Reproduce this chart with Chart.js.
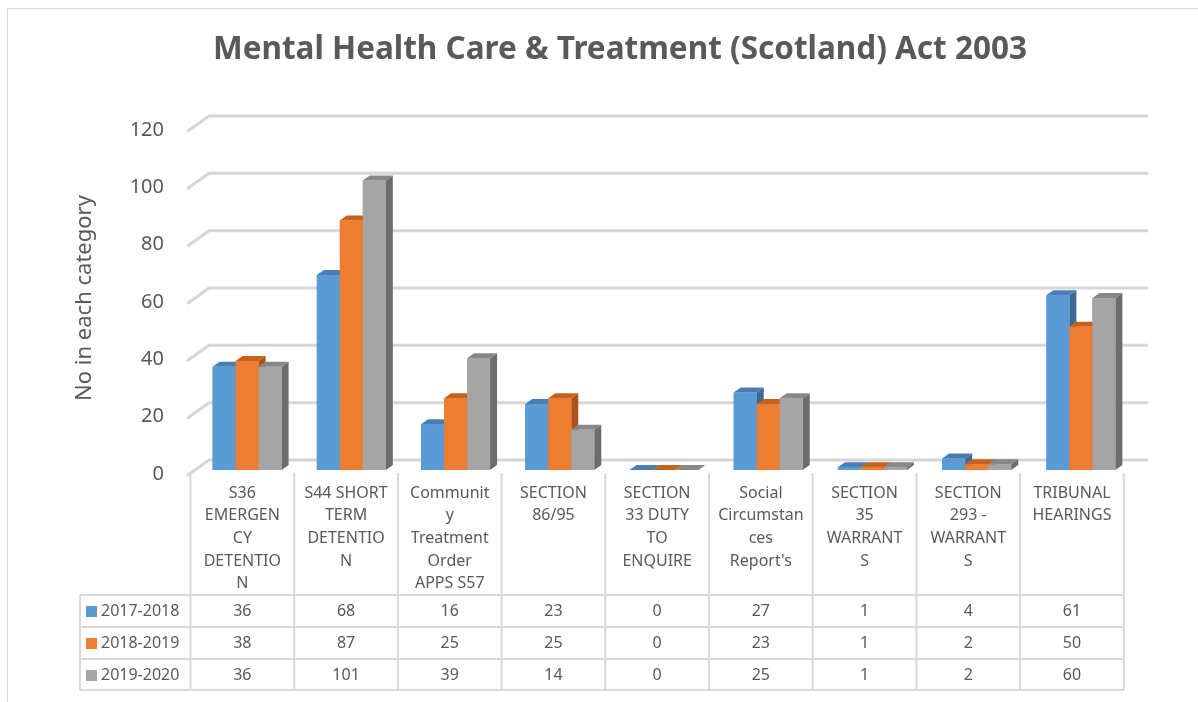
<!DOCTYPE html>
<html lang="en">
<head>
  <meta charset="UTF-8" />
  <title>Mental Health Care &amp; Treatment (Scotland) Act 2003</title>
  <script src="https://cdn.jsdelivr.net/npm/chart.js"></script>
  <style>
    html, body {
      margin: 0;
      padding: 0;
      background: #fff;
    }
    #mhChart {
      display: block;
    }
  </style>
</head>
<body>
  <canvas id="mhChart" width="1198" height="702"></canvas>

  <script>
    // category names as they wrap in the table header
    const categories = [
      ['S36', 'EMERGEN', 'CY', 'DETENTIO', 'N'],
      ['S44 SHORT', 'TERM', 'DETENTIO', 'N'],
      ['Communit', 'y', 'Treatment', 'Order', 'APPS S57'],
      ['SECTION', '86/95'],
      ['SECTION', '33 DUTY', 'TO', 'ENQUIRE'],
      ['Social', 'Circumstan', 'ces', "Report's"],
      ['SECTION', '35', 'WARRANT', 'S'],
      ['SECTION', '293 -', 'WARRANT', 'S'],
      ['TRIBUNAL', 'HEARINGS']
    ];
    const seriesNames = ['2017-2018', '2018-2019', '2019-2020'];
    const values2017 = [36, 68, 16, 23, 0, 27, 1, 4, 61];
    const values2018 = [38, 87, 25, 25, 0, 23, 1, 2, 50];
    const values2019 = [36, 101, 39, 14, 0, 25, 1, 2, 60];
    const yTicks = [0, 20, 40, 60, 80, 100, 120];

    const frontColors = ['#5b9bd5', '#ed7d31', '#a5a5a5'];
    const topColors = ['#4a7db0', '#c4621e', '#878787'];
    const sideColors = ['#3d6a95', '#a9531a', '#6c6c6c'];
    const textColor = '#595959';
    const lineColor = '#d9d9d9';
    const FONT = '"Noto Sans", "Open Sans", sans-serif';

    // depth of the bars and of the back wall
    const barDX = 7, barDY = -5;

    const allValues = [values2017, values2018, values2019];

    // back wall grid lines with the little slanted step on the left
    const wallGrid = {
      id: 'wallGrid',
      beforeDatasetsDraw(chart) {
        const { ctx, chartArea } = chart;
        const y = chart.scales.y;
        ctx.save();
        ctx.strokeStyle = '#d6d6d6';
        ctx.lineWidth = 3;
        ctx.lineCap = 'round';
        ctx.lineJoin = 'round';
        yTicks.forEach(v => {
          const yf = y.getPixelForValue(v);
          ctx.beginPath();
          ctx.moveTo(chartArea.left - 7, yf + 5);
          ctx.lineTo(chartArea.left + 14, yf - 10);
          ctx.lineTo(chartArea.right + 14, yf - 10);
          ctx.stroke();
        });
        ctx.restore();
      }
    };

    // redraw each bar as a box: front, side and top faces
    const bars3d = {
      id: 'bars3d',
      afterDatasetsDraw(chart) {
        const ctx = chart.ctx;
        ctx.save();
        for (let i = 0; i < categories.length; i++) {
          for (let d = 0; d < allValues.length; d++) {
            const el = chart.getDatasetMeta(d).data[i];
            const x0 = el.x - el.width / 2;
            const x1 = el.x + el.width / 2;
            const top = el.y;
            const base = el.base;

            ctx.fillStyle = sideColors[d];
            ctx.beginPath();
            ctx.moveTo(x1, base);
            ctx.lineTo(x1, top);
            ctx.lineTo(x1 + barDX, top + barDY);
            ctx.lineTo(x1 + barDX, base + barDY);
            ctx.closePath();
            ctx.fill();

            ctx.fillStyle = topColors[d];
            ctx.beginPath();
            ctx.moveTo(x0, top);
            ctx.lineTo(x1, top);
            ctx.lineTo(x1 + barDX, top + barDY);
            ctx.lineTo(x0 + barDX, top + barDY);
            ctx.closePath();
            ctx.fill();

            ctx.fillStyle = frontColors[d];
            ctx.fillRect(x0, top, x1 - x0, base - top);
          }
        }
        ctx.restore();
      }
    };

    // title, data table with legend keys, and the outer frame
    const tableAndTitle = {
      id: 'tableAndTitle',
      afterDraw(chart) {
        const ctx = chart.ctx;
        const colLeft = 190.5, colW = 103.7;
        const headTop = 473, rowTops = [595, 627, 659], rowBottom = 690;
        const legendLeft = 80;
        const tableRight = colLeft + colW * categories.length;

        ctx.save();

        // frame
        ctx.strokeStyle = lineColor;
        ctx.lineWidth = 1;
        ctx.strokeRect(7.5, 8.5, 1200, 720);

        // title
        ctx.fillStyle = textColor;
        ctx.font = 'bold 32px ' + FONT;
        ctx.textAlign = 'center';
        ctx.textBaseline = 'middle';
        ctx.fillText('Mental Health Care & Treatment (Scotland) Act 2003', 620, 50, 814);

        // table grid
        ctx.strokeStyle = lineColor;
        ctx.lineWidth = 2;
        ctx.beginPath();
        for (let k = 0; k <= categories.length; k++) {
          const x = colLeft + k * colW;
          ctx.moveTo(x, headTop);
          ctx.lineTo(x, rowBottom);
        }
        rowTops.concat([rowBottom]).forEach(yy => {
          ctx.moveTo(legendLeft, yy);
          ctx.lineTo(tableRight, yy);
        });
        ctx.moveTo(legendLeft, rowTops[0]);
        ctx.lineTo(legendLeft, rowBottom);
        ctx.stroke();

        // header text
        ctx.fillStyle = textColor;
        ctx.font = '16px ' + FONT;
        ctx.textAlign = 'center';
        categories.forEach((lines, i) => {
          const cx = colLeft + (i + 0.5) * colW;
          lines.forEach((t, j) => ctx.fillText(t, cx, 493 + j * 22.7));
        });

        // rows
        allValues.forEach((vals, d) => {
          const cy = rowTops[d] + 16.5;
          vals.forEach((v, i) => {
            ctx.textAlign = 'center';
            ctx.fillStyle = textColor;
            ctx.fillText(String(v), colLeft + (i + 0.5) * colW, cy);
          });
          ctx.fillStyle = frontColors[d];
          ctx.fillRect(86, cy - 5.5, 11, 11);
          ctx.fillStyle = textColor;
          ctx.textAlign = 'left';
          ctx.fillText(seriesNames[d], 101, cy);
        });

        ctx.restore();
      }
    };

    new Chart(document.getElementById('mhChart'), {
      type: 'bar',
      data: {
        labels: categories.map(c => c.join(' ')),
        datasets: allValues.map((vals, d) => ({
          label: seriesNames[d],
          data: vals,
          backgroundColor: frontColors[d],
          borderWidth: 0,
          categoryPercentage: 0.662,
          barPercentage: 1.0
        }))
      },
      options: {
        responsive: false,
        animation: false,
        layout: {
          padding: { left: 60, right: 65, top: 126, bottom: 0 }
        },
        plugins: {
          legend: { display: false },
          title: { display: false },
          tooltip: { enabled: false }
        },
        scales: {
          x: {
            grid: { display: false },
            border: { display: false },
            ticks: { display: false },
            afterFit(scale) { scale.height = 232; }
          },
          y: {
            min: 0,
            max: 120,
            grid: { display: false },
            border: { display: false },
            ticks: {
              stepSize: 20,
              padding: 23,
              labelOffset: 4,
              color: textColor,
              font: { family: FONT, size: 20 }
            },
            title: {
              display: true,
              text: 'No in each category',
              color: textColor,
              font: { family: FONT, size: 22 },
              padding: { top: 12, bottom: 0 }
            },
            afterFit(scale) { scale.width = 135; }
          }
        }
      },
      plugins: [wallGrid, bars3d, tableAndTitle]
    });
  </script>
</body>
</html>
